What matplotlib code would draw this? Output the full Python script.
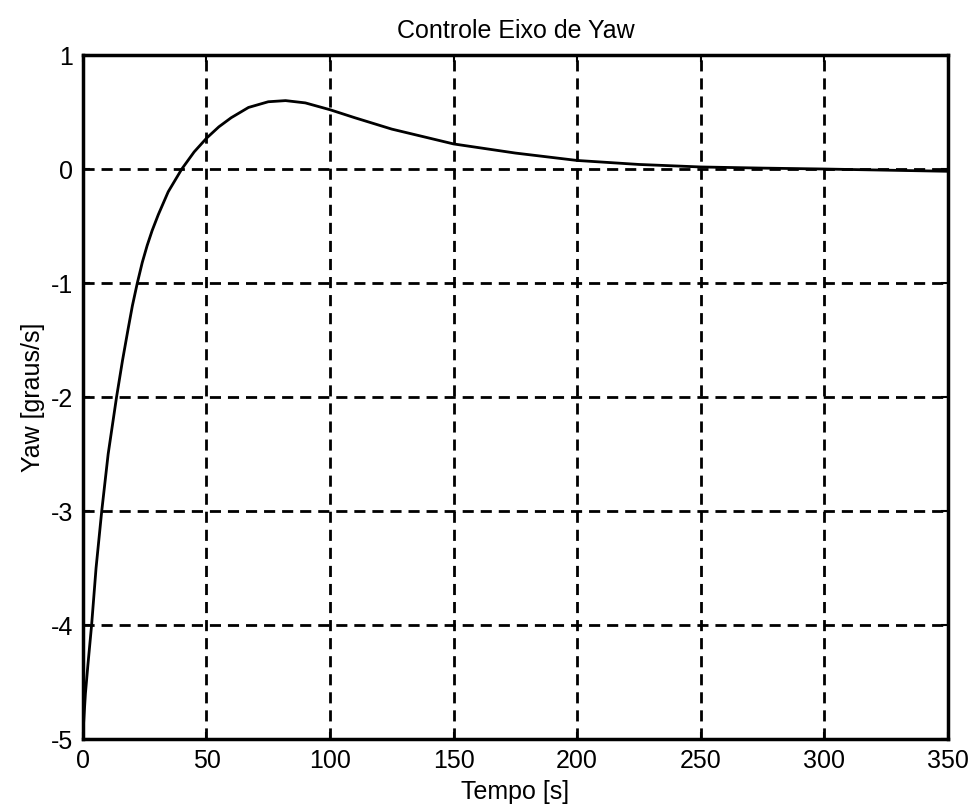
import matplotlib
matplotlib.use("Agg")
import matplotlib.pyplot as plt

# Data
tempo = [0, 1, 2, 3.5, 5.3, 7.6, 10.2, 13.6, 16, 18.3, 20, 22, 24, 26, 28,
         30.5, 34.5, 40, 45, 50, 55, 60, 67, 75, 82, 90, 100, 110, 125, 150,
         175, 200, 225, 250, 275, 300, 325, 350]
yaw = [-4.95, -4.6, -4.35, -4.0, -3.5, -3.0, -2.5, -2.0, -1.68, -1.40, -1.20,
       -1.0, -0.82, -0.67, -0.54, -0.40, -0.20, 0.0, 0.15, 0.27, 0.37, 0.45,
       0.54, 0.59, 0.60, 0.58, 0.52, 0.45, 0.35, 0.22, 0.14, 0.075, 0.04,
       0.018, 0.008, 0.0, -0.01, -0.02]
xticks = [0, 50, 100, 150, 200, 250, 300, 350]
yticks = [-5, -4, -3, -2, -1, 0, 1]

plt.rcParams['font.family'] = ['Liberation Sans', 'DejaVu Sans']
plt.rcParams['axes.unicode_minus'] = False

fig = plt.figure(figsize=(9.76, 8.09), dpi=100)
ax = fig.add_axes([0.085, 0.0865, 0.886, 0.8455])

ax.plot(tempo, yaw, color='black', linewidth=2.0)
ax.set_xlim(0, 350)
ax.set_ylim(-5, 1)
ax.set_xticks(xticks)
ax.set_yticks(yticks)
ax.grid(True, color='black', linestyle=(0, (4, 2.5)), linewidth=2.0)
for s in ax.spines.values():
    s.set_linewidth(2.5)
ax.tick_params(direction='in', length=5, width=1.5, labelsize=18,
               top=True, right=True, pad=7)
ax.set_title('Controle Eixo de Yaw', fontsize=18, pad=12)
ax.set_xlabel('Tempo [s]', fontsize=18, labelpad=5)
ax.set_ylabel('Yaw [graus/s]', fontsize=18, labelpad=4)

fig.savefig('out.png', dpi=100)
